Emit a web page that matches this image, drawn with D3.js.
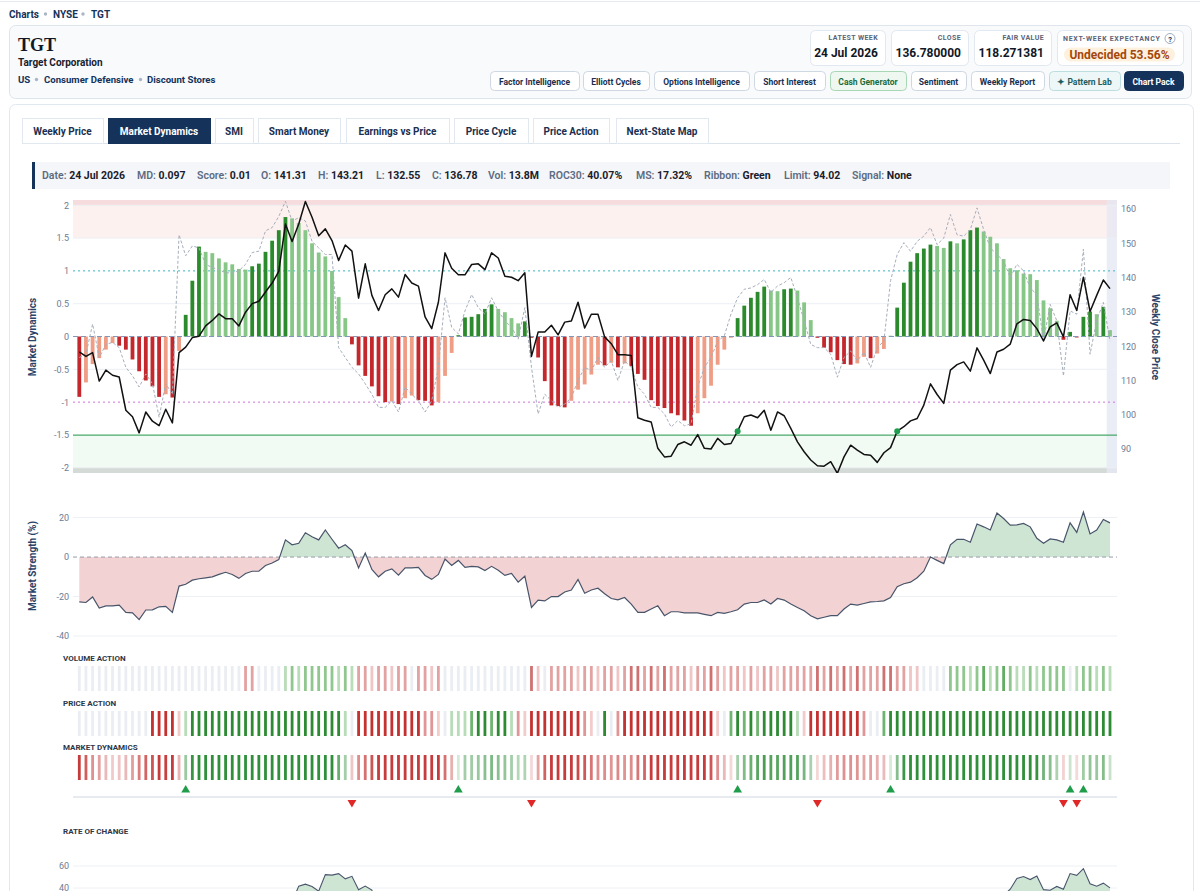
<!DOCTYPE html>
<html>
<head>
<meta charset="utf-8">
<script src="https://cdn.jsdelivr.net/npm/d3@7"></script>
<style>
  body { margin: 0; background: #fff; overflow: hidden; }
</style>
</head>
<body>
<script>
// weekly Market Dynamics reading, 156 weeks ending 24 Jul 2026
var mdValues = [-0.92,-0.70,-0.42,-0.33,-0.20,-0.10,-0.14,-0.20,-0.35,-0.53,
  -0.67,-0.76,-0.92,-0.88,-0.93,-0.22,0.33,0.85,1.37,1.29,
  1.27,1.19,1.13,1.10,1.03,1.02,1.07,1.11,1.29,1.46,
  1.62,1.82,1.80,1.73,1.62,1.42,1.28,1.22,1.00,0.60,
  0.28,-0.12,-0.44,-0.60,-0.76,-0.91,-1.00,-0.99,-1.03,-0.94,
  -0.90,-0.97,-0.98,-1.05,-1.00,-0.60,-0.25,0.02,0.29,0.30,
  0.34,0.42,0.49,0.42,0.37,0.28,0.20,0.23,-0.02,-0.32,
  -0.68,-1.05,-1.06,-1.08,-0.98,-0.81,-0.73,-0.58,-0.43,-0.44,
  -0.40,-0.47,-0.41,-0.45,-0.57,-0.66,-0.97,-1.06,-1.09,-1.17,
  -1.20,-1.28,-1.36,-1.17,-0.94,-0.75,-0.43,-0.20,-0.02,0.28,
  0.47,0.59,0.68,0.76,0.70,0.69,0.72,0.73,0.70,0.52,
  0.25,-0.02,-0.17,-0.24,-0.36,-0.42,-0.43,-0.41,-0.31,-0.33,
  -0.26,-0.19,0.01,0.44,0.82,1.14,1.27,1.34,1.40,1.38,
  1.35,1.45,1.42,1.48,1.62,1.66,1.60,1.52,1.42,1.18,
  1.04,1.01,0.96,0.95,0.86,0.55,0.43,0.24,-0.05,0.07,
  -0.015,0.30,0.38,0.34,0.45,0.097];

// grey dashed raw reading (same MD scale)
var mdRaw = [-0.32,-0.27,0.19,-0.32,-0.12,-0.09,-0.17,-0.47,-0.60,-0.77,
  -0.57,-0.72,-1.23,-0.72,-0.88,1.55,1.23,1.38,1.35,1.10,
  1.05,1.02,0.97,0.97,1.00,1.10,1.28,1.30,1.61,1.66,
  1.83,2.06,1.76,1.81,1.76,1.45,1.35,1.25,1.25,-0.17,
  -0.32,-0.47,-0.57,-0.72,-0.88,-1.08,-1.08,-0.98,-1.15,-0.77,
  -0.88,-0.98,-1.15,-0.98,-0.47,0.59,0.14,0.04,0.39,0.64,
  0.44,0.34,0.59,0.39,0.24,0.14,-0.04,0.44,-0.47,-1.18,
  -0.88,-0.98,-1.08,-1.03,-0.93,-0.67,-0.47,-0.52,-0.32,-0.47,
  -0.37,-0.67,-0.37,-0.47,-0.77,-0.88,-1.08,-1.08,-1.18,-1.38,
  -1.28,-1.36,-1.33,-0.77,-0.47,-0.32,-0.07,0.01,0.34,0.59,
  0.72,0.74,0.79,0.87,0.67,0.77,0.82,0.90,0.59,0.24,
  -0.12,-0.17,-0.17,-0.27,-0.62,-0.32,-0.22,-0.37,-0.24,-0.47,
  -0.17,-0.07,0.85,1.25,1.43,1.30,1.45,1.53,1.66,1.40,
  1.50,1.86,1.55,1.53,1.63,1.96,1.63,1.35,1.25,1.15,
  0.90,1.10,1.00,0.74,0.64,-0.07,0.49,0.24,-0.60,0.39,
  0.34,1.33,-0.27,0.24,0.52,-0.07];

var closePrices = [118.3,117.0,118.1,109.8,113.0,111.5,111.0,101.3,99.4,94.7,
  100.8,98.1,96.8,101.6,97.6,118.1,119.7,122.5,122.9,125.9,
  127.5,129.4,128.0,128.0,125.9,129.9,132.4,133.1,135.8,138.4,
  141.8,155.6,150.5,155.6,162.2,157.6,152.2,154.2,150.8,145.0,
  149.5,147.7,134.0,144.0,134.8,130.4,135.0,136.7,134.3,140.9,
  138.4,137.5,128.5,125.1,132.8,147.2,142.7,140.8,140.8,143.8,
  144.0,142.3,147.2,145.7,140.4,140.1,139.1,141.4,117.0,124.1,
  124.1,126.1,123.3,127.0,127.3,132.8,125.3,129.3,129.3,122.7,
  120.7,117.5,117.5,117.3,99.1,98.4,97.9,90.2,87.7,87.9,
  91.3,92.1,91.1,94.2,90.2,90.0,93.1,91.3,91.6,95.2,
  99.4,99.9,99.1,101.3,95.5,100.8,99.7,96.0,92.1,89.2,
  86.8,85.1,85.0,86.3,82.9,87.7,91.1,89.7,88.4,88.2,
  86.1,88.9,90.4,95.2,96.5,98.2,98.9,102.8,109.0,105.9,
  103.3,113.0,114.6,115.4,112.7,119.5,115.9,112.0,118.3,119.1,
  120.6,126.5,127.8,127.5,125.1,121.5,125.6,126.8,122.7,135.0,
  130.4,140.1,130.1,134.8,139.3,136.78];

var strength = [-22.7,-23,-20.2,-25.8,-24.7,-24.7,-24.3,-28,-28.3,-31.7,
  -26.8,-26.7,-25.2,-25,-28,-14.7,-13.8,-11.7,-11,-10.5,
  -10,-8.8,-7.7,-8.8,-10.8,-8.3,-7.2,-7.2,-4.3,-3,
  -1.3,8.7,6.2,7,12.3,10.3,8.7,13.7,9,4.5,
  6.2,3.3,-5.5,2,-6.3,-10,-7.2,-6,-9.2,-5.5,
  -5.5,-5.2,-9.3,-11.3,-8.8,-1,-4.3,-1.7,-5.2,-4.7,
  -5,-6.8,-4.7,-6.7,-9.3,-8.3,-12.7,-9.7,-25.5,-21.8,
  -22.2,-20,-20,-17.7,-16.7,-11.3,-18.3,-16.7,-15.8,-18.6,
  -21,-21.7,-20.5,-23.8,-28,-28,-26.3,-24.7,-29.7,-27.7,
  -27.7,-28.3,-28.3,-28.3,-29,-29.7,-28,-28.5,-27.7,-26.7,
  -23.8,-23,-23,-21.7,-23.8,-21,-21.8,-23.8,-25.5,-27.2,
  -29.7,-31.3,-30.5,-29.7,-29.7,-26.3,-23.8,-24.3,-23.5,-22.7,
  -22.5,-22.2,-20.5,-15,-13.5,-12.7,-10.5,-7.2,0,-1.7,
  -3.3,6.2,9,9,7.5,16.7,15.3,13.7,22.3,19.5,
  16.2,16.3,17,15.3,9.5,7,9.2,8.7,7.5,17.3,
  12.5,22.8,11.7,13.7,19,17.32];

var roc30 = [8,6,9,2,5,4,3,-6,-8,-12,
  -6,-9,-10,-5,-9,10,12,15,14,17,
  19,21,18,19,16,20,22,21,24,26,
  19.9,33.0,27.4,41.7,43.5,41.3,37.1,52.2,51.7,53.1,
  48.3,50.6,38.4,41.7,38.1,10.4,12.8,11.6,9.3,11.9,
  8.5,6.3,0.4,-2.3,5.5,13.3,7.8,5.8,3.7,3.9,
  1.6,-8.5,-2.2,-6.4,-13.4,-11.1,-8.6,-8.3,-22.4,-14.4,
  -17.0,-14.6,-8.0,-11.8,-5.6,1.8,-7.2,-5.4,-3.7,-12.9,
  -12.8,-14.5,-8.6,-6.2,-25.4,-33.2,-31.4,-35.9,-37.7,-38.9,
  -36.6,-35.3,-38.1,-35.3,-35.8,-35.8,-33.1,-35.4,-21.7,-23.3,
  -19.9,-20.8,-19.6,-20.2,-25.0,-24.1,-20.4,-25.8,-28.8,-27.3,
  -28.1,-27.6,-27.7,-26.4,-16.3,-10.9,-6.9,-0.6,0.8,0.3,
  -5.7,-3.5,-0.8,1.1,7.0,9.1,6.2,12.6,19.0,11.2,
  3.9,13.1,15.6,13.9,18.0,18.6,16.2,16.7,28.4,33.5,
  38.9,48.6,50.4,47.7,50.9,38.5,37.9,41.4,38.8,53.1,
  51.5,57.6,43.9,41.6,44.4,40.07];

// ribbon states: -3 strong bear ... 0 neutral ... 3 strong bull
var volumeAction = [0,0,0,0,0,0,0,0,0,0,0,0,0,0,0,0,0,0,0,0,0,0,0,0,0,
  -2,-2,0,0,0,0,
  1,2,1,2,2,2,2,2,1,2,1,
  -2,-2,-1,-2,-2,-1,-2,-2,
  0,
  -2,-2,-1,-2,
  0,0,0,0,0,0,0,0,0,0,0,0,0,
  -3,-1,0,
  -2,-2,-2,-2,-1,-2,-2,-1,-2,-2,
  -1,-2,-3,-3,-2,-3,-2,-3,-2,-2,
  -2,-1,-2,-2,-3,-2,-1,-2,-2,-1,
  -2,-1,-2,-2,-1,-2,-2,-2,-2,-2,
  -3,-2,-3,-2,-3,-2,-3,-2,-2,-2,
  -3,-3,-2,-2,-1,-1,
  0,0,0,0,
  2,2,2,1,2,3,1,2,3,2,1,1,2,1,2,2,2,2,
  0,
  1,2,2,1,2,1];

var priceAction = [0,0,0,0,0,0,0,0,0,0,0,
  -3,-3,-3,-3,-1,1,
  3,3,3,3,3,3,3,3,3,3,3,3,3,3,3,3,3,3,3,3,3,3,3,
  1,0,
  -3,-3,-3,-3,-3,-3,-3,-3,-3,-3,
  -2,-2,-1,0,1,1,1,2,3,3,2,3,3,1,-2,-1,
  -3,-3,-3,-3,-3,-3,-3,-3,
  -2,-1,0,3,0,-2,
  -3,-3,-3,-3,-3,-3,-3,-3,-3,-3,-3,-3,-3,-3,
  -1,0,2,3,2,3,2,3,3,3,3,3,1,-1,
  -3,-3,-3,-3,-3,-3,-3,-3,
  -2,0,0,2,
  3,3,3,3,3,3,3,3,3,3,3,3,3,3,3,3,3,3,3,3,3,3,3,3,3,3,3,3,3,3,3,3,3,3];

var limitDotWeeks = [99, 123];
var limitPrice = 94.02;
var mdTicks = [-2, -1.5, -1, -0.5, 0, 0.5, 1, 1.5, 2];
var priceTicks = [90, 100, 110, 120, 130, 140, 150, 160];
var strengthTicks = [-40, -20, 0, 20];
var rocTicks = [40, 60];

var crumbs = ['Charts', 'NYSE', 'TGT'];
var tags = ['US', 'Consumer Defensive', 'Discount Stores'];
var stats = [['LATEST WEEK', '24 Jul 2026'], ['CLOSE', '136.780000'], ['FAIR VALUE', '118.271381']];
var buttons = ['Factor Intelligence', 'Elliott Cycles', 'Options Intelligence', 'Short Interest',
  'Cash Generator', 'Sentiment', 'Weekly Report', '\u2726 Pattern Lab', 'Chart Pack'];
var tabs = ['Weekly Price', 'Market Dynamics', 'SMI', 'Smart Money', 'Earnings vs Price',
  'Price Cycle', 'Price Action', 'Next-State Map'];
var infoItems = [['Date:', '24 Jul 2026'], ['MD:', '0.097'], ['Score:', '0.01'], ['O:', '141.31'],
  ['H:', '143.21'], ['L:', '132.55'], ['C:', '136.78'], ['Vol:', '13.8M'], ['ROC30:', '40.07%'],
  ['MS:', '17.32%'], ['Ribbon:', 'Green'], ['Limit:', '94.02'], ['Signal:', 'None']];
var ribbonRows = [['VOLUME ACTION', volumeAction], ['PRICE ACTION', priceAction], ['MARKET DYNAMICS', null]];

(function() {
  var FONT = "Roboto, 'Liberation Sans', Arial, sans-serif";
  var NAVY = '#14325a';
  var plotL = 73, plotR = 1117;

  var svg = d3.select('body').append('svg')
    .attr('width', 1200).attr('height', 891)
    .style('font-family', FONT);

  function label(g, x, y, s, size, weight, fill, anchor) {
    return g.append('text').attr('x', x).attr('y', y).text(s)
      .attr('font-size', size).attr('font-weight', weight || 400)
      .attr('fill', fill || '#1a202c').attr('text-anchor', anchor || 'start');
  }
  // a row of words separated by small grey dots
  function dotted(words, xs, dots, y, size, fill) {
    words.forEach(function(w, i) {
      label(svg, xs[i], y, w, size, 700, fill);
      if (i) svg.append('circle').attr('cx', dots[i - 1]).attr('cy', y - 3.5).attr('r', 1.7)
        .attr('fill', '#aab5c5');
    });
  }

  // ---------- header ----------
  svg.append('line').attr('x1', 0).attr('x2', 1200).attr('y1', 1.5).attr('y2', 1.5)
    .attr('stroke', '#e6eaf0');
  dotted(crumbs, [9, 53, 91], [45.5, 83], 17.5, 10, NAVY);

  svg.append('rect').attr('x', 9.5).attr('y', 25.5).attr('width', 1182).attr('height', 73)
    .attr('rx', 6).attr('fill', '#f8fafc').attr('stroke', '#dfe5ec');
  label(svg, 18, 51, 'TGT', 18, 700, '#111827').attr('font-family', "'Liberation Serif', 'DejaVu Serif', serif");
  label(svg, 18, 66, 'Target Corporation', 10, 700, '#1a202c');
  dotted(tags, [18, 44, 147], [36.5, 140.5], 83, 9.6, NAVY);

  var statX = [[810, 885], [891, 968], [974, 1051]];
  stats.forEach(function(s, i) {
    var x0 = statX[i][0], x1 = statX[i][1];
    svg.append('rect').attr('x', x0 + 0.5).attr('y', 30.5).attr('width', x1 - x0).attr('height', 35)
      .attr('rx', 5).attr('fill', '#fff').attr('stroke', '#e2e8f0');
    label(svg, x1 - 7, 40, s[0], 7, 700, '#5a6478', 'end').attr('letter-spacing', 0.4);
    label(svg, x1 - 7, 57, s[1], 12, 700, '#111827', 'end');
  });
  svg.append('rect').attr('x', 1057.5).attr('y', 30.5).attr('width', 126).attr('height', 35)
    .attr('rx', 5).attr('fill', '#fff').attr('stroke', '#e2e8f0');
  label(svg, 1063, 41, 'NEXT-WEEK EXPECTANCY', 7, 700, '#5a6478').attr('letter-spacing', 0.7);
  svg.append('circle').attr('cx', 1170).attr('cy', 38.5).attr('r', 5)
    .attr('fill', '#fff').attr('stroke', '#a0aec0');
  label(svg, 1170, 41.5, '?', 7.5, 700, NAVY, 'middle');
  svg.append('rect').attr('x', 1064).attr('y', 47.5).attr('width', 111).attr('height', 14)
    .attr('rx', 7).attr('fill', '#fdf1de');
  label(svg, 1119.5, 59, 'Undecided 53.56%', 12, 700, '#a4470c', 'middle');

  var btnX = [[490, 579], [583, 649], [654, 749], [754, 825], [830, 906], [911, 966], [971, 1044], [1049, 1120], [1124, 1183]];
  var btnStyle = function(i) {
    if (i === 4) return ['#eef8f1', '#a7d7b4', '#1d6b3a'];
    if (i === 7) return ['#eef7f7', '#bcdede', '#1f5d5d'];
    if (i === 8) return [NAVY, NAVY, '#fff'];
    return ['#fff', '#cfd7e2', '#1a2f4f'];
  };
  buttons.forEach(function(b, i) {
    var st = btnStyle(i);
    svg.append('rect').attr('x', btnX[i][0] + 0.5).attr('y', 71.5)
      .attr('width', btnX[i][1] - btnX[i][0]).attr('height', 19).attr('rx', 4)
      .attr('fill', st[0]).attr('stroke', st[1]);
    label(svg, (btnX[i][0] + btnX[i][1]) / 2, 84.5, b, 8.5, 700, st[2], 'middle');
  });

  // ---------- main card and tabs ----------
  svg.append('rect').attr('x', 9.5).attr('y', 104.5).attr('width', 1184).attr('height', 900)
    .attr('rx', 6).attr('fill', '#fff').attr('stroke', '#e2e8f0');
  svg.append('line').attr('x1', 22).attr('x2', 1180).attr('y1', 143.5).attr('y2', 143.5)
    .attr('stroke', '#dde3ea');
  var tabX = [[22, 103], [108, 210], [215, 253], [258, 340], [346, 449], [454, 528], [533, 609], [616, 708]];
  tabs.forEach(function(t, i) {
    var on = i === 1;
    svg.append('rect').attr('x', tabX[i][0] + 0.5).attr('y', 118.5)
      .attr('width', tabX[i][1] - tabX[i][0]).attr('height', 25)
      .attr('fill', on ? NAVY : '#fff').attr('stroke', on ? NAVY : '#e2e8f0');
    label(svg, (tabX[i][0] + tabX[i][1]) / 2, 134.5, t, 10, 700, on ? '#fff' : '#1a2f4f', 'middle');
  });

  // info strip
  svg.append('rect').attr('x', 32).attr('y', 162).attr('width', 1138).attr('height', 27).attr('fill', '#f4f6f9');
  svg.append('rect').attr('x', 32).attr('y', 162).attr('width', 3).attr('height', 27).attr('fill', NAVY);
  var infoX = [42, 137, 197, 261, 318, 376, 432, 488, 549, 636, 704, 784, 852];
  infoItems.forEach(function(it, i) {
    var t = label(svg, infoX[i], 179, '', 10.5, 700, '#1a202c');
    t.append('tspan').attr('fill', '#5d6b82').attr('font-weight', 600).text(it[0] + ' ');
    t.append('tspan').text(it[1]);
  });

  // ---------- shared x scale ----------
  var weeks = d3.range(mdValues.length);
  var x = d3.scalePoint().domain(weeks).range([79.3, 1110]);
  var step = x.step();

  // ---------- Market Dynamics panel ----------
  var yMd = d3.scaleLinear().domain([-2.08, 2.08]).range([473, 200]);
  var yPx = d3.scaleLinear().domain([83, 162.62]).range([473, 200]);
  var main = svg.append('g');

  svg.append('clipPath').attr('id', 'mainClip').append('rect')
    .attr('x', plotL).attr('y', 200).attr('width', plotR - plotL).attr('height', 273);

  // zones
  main.append('rect').attr('x', plotL).attr('width', plotR - plotL)
    .attr('y', yMd(2.08)).attr('height', yMd(1.5) - yMd(2.08)).attr('fill', '#fdf1f0');
  main.append('rect').attr('x', plotL).attr('width', plotR - plotL)
    .attr('y', yMd(2.08)).attr('height', yMd(2) - yMd(2.08)).attr('fill', '#f6dcdc');
  main.append('rect').attr('x', plotL).attr('width', plotR - plotL)
    .attr('y', yMd(-1.5)).attr('height', yMd(-2.08) - yMd(-1.5)).attr('fill', '#f1faf3');
  main.append('rect').attr('x', plotL).attr('width', plotR - plotL)
    .attr('y', yMd(-2)).attr('height', yMd(-2.08) - yMd(-2)).attr('fill', '#d4dad5');
  // latest week highlight
  main.append('rect').attr('x', x(weeks.length - 1) - step / 2).attr('y', 200)
    .attr('width', plotR - x(weeks.length - 1) + step / 2).attr('height', 273)
    .attr('fill', '#e6e9f4').attr('opacity', 0.8);

  main.selectAll('.grid').data([0.5, -0.5, 1.5, 2, -2]).enter().append('line')
    .attr('x1', plotL).attr('x2', plotR).attr('y1', yMd).attr('y2', yMd)
    .attr('stroke', '#eceff4');
  main.append('line').attr('x1', plotL).attr('x2', plotR).attr('y1', yMd(1)).attr('y2', yMd(1))
    .attr('stroke', '#3bb7c2').attr('stroke-dasharray', '2,3');
  main.append('line').attr('x1', plotL).attr('x2', plotR).attr('y1', yMd(-1)).attr('y2', yMd(-1))
    .attr('stroke', '#cf72d6').attr('stroke-dasharray', '2,3');

  // bars: dark while the reading grows away from zero, light while it fades
  var tone = function(i) {
    var v = mdValues[i], p = i ? mdValues[i - 1] : 0;
    var strong = !i || (v >= 0) !== (p >= 0) || Math.abs(v) >= Math.abs(p);
    if (v >= 0) return strong ? '#2b8a2b' : '#86c686';
    return strong ? '#c4282c' : '#ef9d85';
  };
  var bw = 3.8;
  main.append('g').selectAll('rect').data(weeks).enter().append('rect')
    .attr('x', function(i) { return x(i) - bw / 2; })
    .attr('width', bw)
    .attr('y', function(i) { return yMd(Math.max(0, mdValues[i])); })
    .attr('height', function(i) { return Math.abs(yMd(mdValues[i]) - yMd(0)); })
    .attr('fill', tone);

  main.append('line').attr('x1', plotL).attr('x2', plotR).attr('y1', yMd(0)).attr('y2', yMd(0))
    .attr('stroke', '#8398b8').attr('stroke-dasharray', '5,3');
  main.append('line').attr('x1', plotL).attr('x2', plotR)
    .attr('y1', yPx(limitPrice)).attr('y2', yPx(limitPrice))
    .attr('stroke', '#4aa96a').attr('stroke-width', 1.2);

  var lines = main.append('g').attr('clip-path', 'url(#mainClip)');
  lines.append('path').datum(weeks)
    .attr('d', d3.line().x(x).y(function(i) { return yMd(mdRaw[i]); }))
    .attr('fill', 'none').attr('stroke', '#a6aebb').attr('stroke-width', 1)
    .attr('stroke-dasharray', '3,2');
  lines.append('path').datum(weeks)
    .attr('d', d3.line().x(x).y(function(i) { return yPx(closePrices[i]); }))
    .attr('fill', 'none').attr('stroke', '#111').attr('stroke-width', 1.5)
    .attr('stroke-linejoin', 'round');
  lines.selectAll('circle').data(limitDotWeeks).enter().append('circle')
    .attr('cx', x).attr('cy', function(i) { return yPx(closePrices[i]); })
    .attr('r', 3).attr('fill', '#1f9d4f');

  var axL = main.append('g').attr('transform', 'translate(' + plotL + ',0)')
    .call(d3.axisLeft(yMd).tickValues(mdTicks).tickSize(0).tickPadding(4).tickFormat(String));
  var axR = main.append('g').attr('transform', 'translate(' + plotR + ',0)')
    .call(d3.axisRight(yPx).tickValues(priceTicks).tickSize(0).tickPadding(4).tickFormat(String));
  [axL, axR].forEach(function(a) {
    a.select('.domain').remove();
    a.selectAll('text').attr('font-size', 9).attr('fill', '#6e7c94').attr('font-family', FONT);
  });
  label(svg, 0, 0, 'Market Dynamics', 10, 700, '#2a4368', 'middle')
    .attr('transform', 'translate(36,337) rotate(-90)');
  label(svg, 0, 0, 'Weekly Close Price', 10, 700, '#2a4368', 'middle')
    .attr('transform', 'translate(1152,337) rotate(90)');

  // ---------- Market Strength panel ----------
  var yMs = d3.scaleLinear().domain([-42, 30]).range([640, 497.8]);
  var ms = svg.append('g');
  ms.selectAll('.grid').data([20, -20, -40]).enter().append('line')
    .attr('x1', plotL).attr('x2', plotR).attr('y1', yMs).attr('y2', yMs).attr('stroke', '#edf0f5');
  svg.append('clipPath').attr('id', 'msPos').append('rect')
    .attr('x', plotL).attr('y', 480).attr('width', plotR - plotL).attr('height', yMs(0) - 480);
  svg.append('clipPath').attr('id', 'msNeg').append('rect')
    .attr('x', plotL).attr('y', yMs(0)).attr('width', plotR - plotL).attr('height', 100);
  var msArea = d3.area().x(x).y0(yMs(0)).y1(function(i) { return yMs(strength[i]); });
  ms.append('path').datum(weeks).attr('d', msArea).attr('fill', '#cfe5d4').attr('clip-path', 'url(#msPos)');
  ms.append('path').datum(weeks).attr('d', msArea).attr('fill', '#f2d2d2').attr('clip-path', 'url(#msNeg)');
  ms.append('line').attr('x1', plotL).attr('x2', plotR).attr('y1', yMs(0)).attr('y2', yMs(0))
    .attr('stroke', '#959ca8').attr('stroke-dasharray', '4,3');
  ms.append('path').datum(weeks)
    .attr('d', d3.line().x(x).y(function(i) { return yMs(strength[i]); }))
    .attr('fill', 'none').attr('stroke', '#48546a').attr('stroke-width', 1.2);
  var axMs = ms.append('g').attr('transform', 'translate(' + plotL + ',0)')
    .call(d3.axisLeft(yMs).tickValues(strengthTicks).tickSize(0).tickPadding(4).tickFormat(String));
  axMs.select('.domain').remove();
  axMs.selectAll('text').attr('font-size', 9).attr('fill', '#6e7c94').attr('font-family', FONT);
  label(svg, 0, 0, 'Market Strength (%)', 10, 700, '#2a4368', 'middle')
    .attr('transform', 'translate(36,566) rotate(-90)');

  // ---------- ribbons ----------
  var pal = {
    'VOLUME ACTION': { '3': '#62ad62', '2': '#8fc78f', '1': '#b9dcb9', '0': '#eaedf2', '-1': '#efc5c5', '-2': '#e3a2a2', '-3': '#cf7171' },
    'PRICE ACTION': { '3': '#2e8b34', '2': '#6fb46f', '1': '#b8dcb8', '0': '#eaedf2', '-1': '#f2cbcb', '-2': '#e09696', '-3': '#c43131' }
  };
  var rowY = [666, 711, 755];
  var sw = 2.8;
  ribbonRows.forEach(function(r, ri) {
    label(svg, 63, rowY[ri] - 5, r[0], 8, 700, '#2d3748');
    var g = svg.append('g');
    g.selectAll('rect').data(weeks).enter().append('rect')
      .attr('x', function(i) { return x(i) - sw / 2; })
      .attr('y', rowY[ri]).attr('width', sw).attr('height', 25)
      .attr('fill', function(i) {
        if (r[1]) return pal[r[0]][r[1][i]];
        return mdValues[i] >= 0 ? '#2f8f3a' : '#c63b3b';
      })
      .attr('fill-opacity', function(i) {
        if (r[1]) return 1;
        return 0.18 + 0.82 * Math.min(1, Math.abs(mdValues[i]) / 0.9);
      });
  });

  // zero-cross signals
  var ups = weeks.filter(function(i) { return i && mdValues[i] > 0 && mdValues[i - 1] <= 0; });
  var downs = weeks.filter(function(i) { return i && mdValues[i] < 0 && mdValues[i - 1] >= 0; });
  svg.append('line').attr('x1', plotL).attr('x2', plotR).attr('y1', 797).attr('y2', 797)
    .attr('stroke', '#dfe4ea').attr('stroke-width', 1.5);
  var tri = d3.symbol().type(d3.symbolTriangle).size(34);
  svg.append('g').selectAll('path').data(ups).enter().append('path')
    .attr('d', tri).attr('fill', '#1f9d4a')
    .attr('transform', function(i) { return 'translate(' + x(i) + ',790)'; });
  svg.append('g').selectAll('path').data(downs).enter().append('path')
    .attr('d', tri).attr('fill', '#e02828')
    .attr('transform', function(i) { return 'translate(' + x(i) + ',802.5) rotate(180)'; });

  // ---------- Rate of change ----------
  label(svg, 63, 834, 'RATE OF CHANGE', 8, 700, '#2d3748');
  var yRoc = d3.scaleLinear().domain([-70, 70]).range([1009, 855]);
  var roc = svg.append('g');
  roc.selectAll('.grid').data(rocTicks).enter().append('line')
    .attr('x1', plotL).attr('x2', plotR).attr('y1', yRoc).attr('y2', yRoc).attr('stroke', '#edf0f5');
  svg.append('clipPath').attr('id', 'rocPos').append('rect')
    .attr('x', plotL).attr('y', 850).attr('width', plotR - plotL).attr('height', yRoc(0) - 850);
  roc.append('path').datum(weeks)
    .attr('d', d3.area().x(x).y0(yRoc(0)).y1(function(i) { return yRoc(roc30[i]); }))
    .attr('fill', '#cfe5d4').attr('clip-path', 'url(#rocPos)');
  roc.append('path').datum(weeks)
    .attr('d', d3.line().x(x).y(function(i) { return yRoc(roc30[i]); }))
    .attr('fill', 'none').attr('stroke', '#48546a').attr('stroke-width', 1.1);
  var axRoc = roc.append('g').attr('transform', 'translate(' + plotL + ',0)')
    .call(d3.axisLeft(yRoc).tickValues(rocTicks).tickSize(0).tickPadding(4).tickFormat(String));
  axRoc.select('.domain').remove();
  axRoc.selectAll('text').attr('font-size', 9).attr('fill', '#6e7c94').attr('font-family', FONT);
})();
</script>
</body>
</html>
